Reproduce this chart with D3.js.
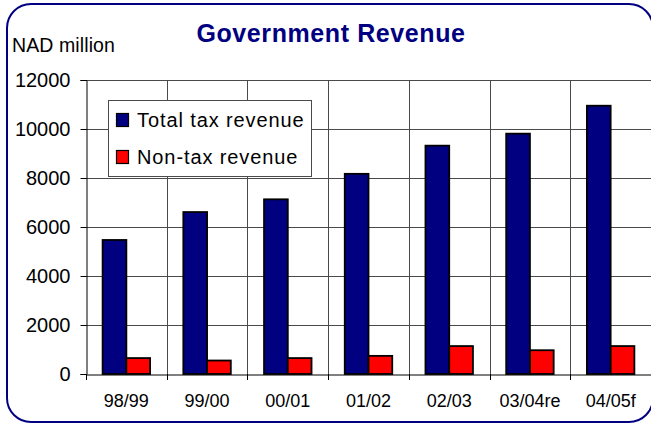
<!DOCTYPE html>
<html>
<head>
<meta charset="utf-8">
<script src="https://cdn.jsdelivr.net/npm/d3@7"></script>
<style>
  html, body { margin: 0; padding: 0; background: #fff; }
  svg { display: block; font-family: Arial, "Liberation Sans", sans-serif; }
</style>
</head>
<body>
<svg id="chart" width="651" height="423"></svg>
<script>
// Fiscal years
const categories = ["98/99", "99/00", "00/01", "01/02", "02/03", "03/04re", "04/05f"];
// NAD million
const totalTax = [5470, 6610, 7130, 8170, 9320, 9810, 10950];
const nonTax   = [650, 550, 650, 740, 1140, 970, 1140];
const seriesNames = ["Total tax revenue", "Non-tax revenue"];
const seriesColors = ["#000080", "#FF0000"];
const yTicks = [0, 2000, 4000, 6000, 8000, 10000, 12000];

const svg = d3.select("#chart");
const plot = { left: 86, right: 651, top: 80, bottom: 374 };

// Rounded frame
svg.append("rect")
  .attr("x", 7).attr("y", 4)
  .attr("width", 646).attr("height", 418)
  .attr("rx", 24).attr("ry", 24)
  .attr("fill", "#fff")
  .attr("stroke", "#000080")
  .attr("stroke-width", 2);

const x0 = d3.scaleBand().domain(categories).range([plot.left, plot.right]).padding(0);
const x1 = d3.scaleBand().domain(seriesNames).range([0, x0.bandwidth()])
  .paddingInner(0).paddingOuter(0.7);
const y = d3.scaleLinear().domain([0, 12000]).range([plot.bottom, plot.top]);

// Horizontal gridlines
svg.append("g")
  .selectAll("line")
  .data(yTicks.filter(d => d > 0))
  .join("line")
  .attr("x1", plot.left).attr("x2", plot.right)
  .attr("y1", d => Math.round(y(d)) + 0.5).attr("y2", d => Math.round(y(d)) + 0.5)
  .attr("stroke", "#4a4a4a").attr("stroke-width", 1);

// Vertical gridlines at category boundaries
svg.append("g")
  .selectAll("line")
  .data(categories.slice(1))
  .join("line")
  .attr("x1", d => Math.round(x0(d)) + 0.5).attr("x2", d => Math.round(x0(d)) + 0.5)
  .attr("y1", plot.top).attr("y2", plot.bottom)
  .attr("stroke", "#4a4a4a").attr("stroke-width", 1);

// Bars
const rows = categories.map((c, i) => ({ cat: c, vals: [totalTax[i], nonTax[i]] }));
svg.append("g")
  .selectAll("g")
  .data(rows)
  .join("g")
  .attr("transform", d => `translate(${x0(d.cat)},0)`)
  .selectAll("rect")
  .data(d => d.vals.map((v, j) => ({ v, s: seriesNames[j], c: seriesColors[j] })))
  .join("rect")
  .attr("x", d => x1(d.s))
  .attr("width", x1.bandwidth())
  .attr("y", d => y(d.v))
  .attr("height", d => y(0) - y(d.v))
  .attr("fill", d => d.c)
  .attr("stroke", "#000")
  .attr("stroke-width", 1.8);

// Y axis
const yAxis = svg.append("g")
  .attr("transform", `translate(${plot.left + 0.5},0)`)
  .call(d3.axisLeft(y).tickValues(yTicks).tickSize(6).tickPadding(10).tickFormat(d3.format("d")));
yAxis.select(".domain").attr("stroke", "#000");
yAxis.selectAll(".tick line").attr("stroke", "#000");
yAxis.selectAll("text").attr("font-size", 20).attr("fill", "#000")
  .attr("font-family", "Arial, 'Liberation Sans', sans-serif");

// X axis
const xAxis = svg.append("g")
  .attr("transform", `translate(0,${plot.bottom + 0.5})`)
  .call(d3.axisBottom(x0).tickSize(0).tickPadding(20));
xAxis.select(".domain").attr("stroke", "#000");
xAxis.selectAll("text").attr("font-size", 18).attr("fill", "#000")
  .attr("font-family", "Arial, 'Liberation Sans', sans-serif");

// Tick marks at category boundaries
svg.append("g")
  .selectAll("line")
  .data(categories)
  .join("line")
  .attr("x1", d => Math.round(x0(d)) + 0.5).attr("x2", d => Math.round(x0(d)) + 0.5)
  .attr("y1", plot.bottom).attr("y2", plot.bottom + 6)
  .attr("stroke", "#000");

// Title
svg.append("text")
  .attr("x", 331).attr("y", 42)
  .attr("text-anchor", "middle")
  .attr("font-size", 25).attr("font-weight", "bold")
  .attr("letter-spacing", "0.6px")
  .attr("fill", "#000080")
  .text("Government Revenue");

// Unit label
svg.append("text")
  .attr("x", 12).attr("y", 52)
  .attr("font-size", 19.5)
  .attr("letter-spacing", "0.1px")
  .attr("fill", "#000")
  .text("NAD million");

// Legend
const legend = svg.append("g");
legend.append("rect")
  .attr("x", 108.5).attr("y", 100.5)
  .attr("width", 203).attr("height", 76)
  .attr("fill", "#fff").attr("stroke", "#4a4a4a").attr("stroke-width", 1);
seriesNames.forEach((name, i) => {
  const cy = 120 + i * 37;
  legend.append("rect")
    .attr("x", 116.5).attr("y", cy - 6.5)
    .attr("width", 12).attr("height", 13)
    .attr("fill", seriesColors[i]).attr("stroke", "#000").attr("stroke-width", 1.2);
  legend.append("text")
    .attr("x", 137).attr("y", cy + 7)
    .attr("font-size", 20)
    .attr("letter-spacing", "0.9px")
    .attr("fill", "#000")
    .text(name);
});
</script>
</body>
</html>
